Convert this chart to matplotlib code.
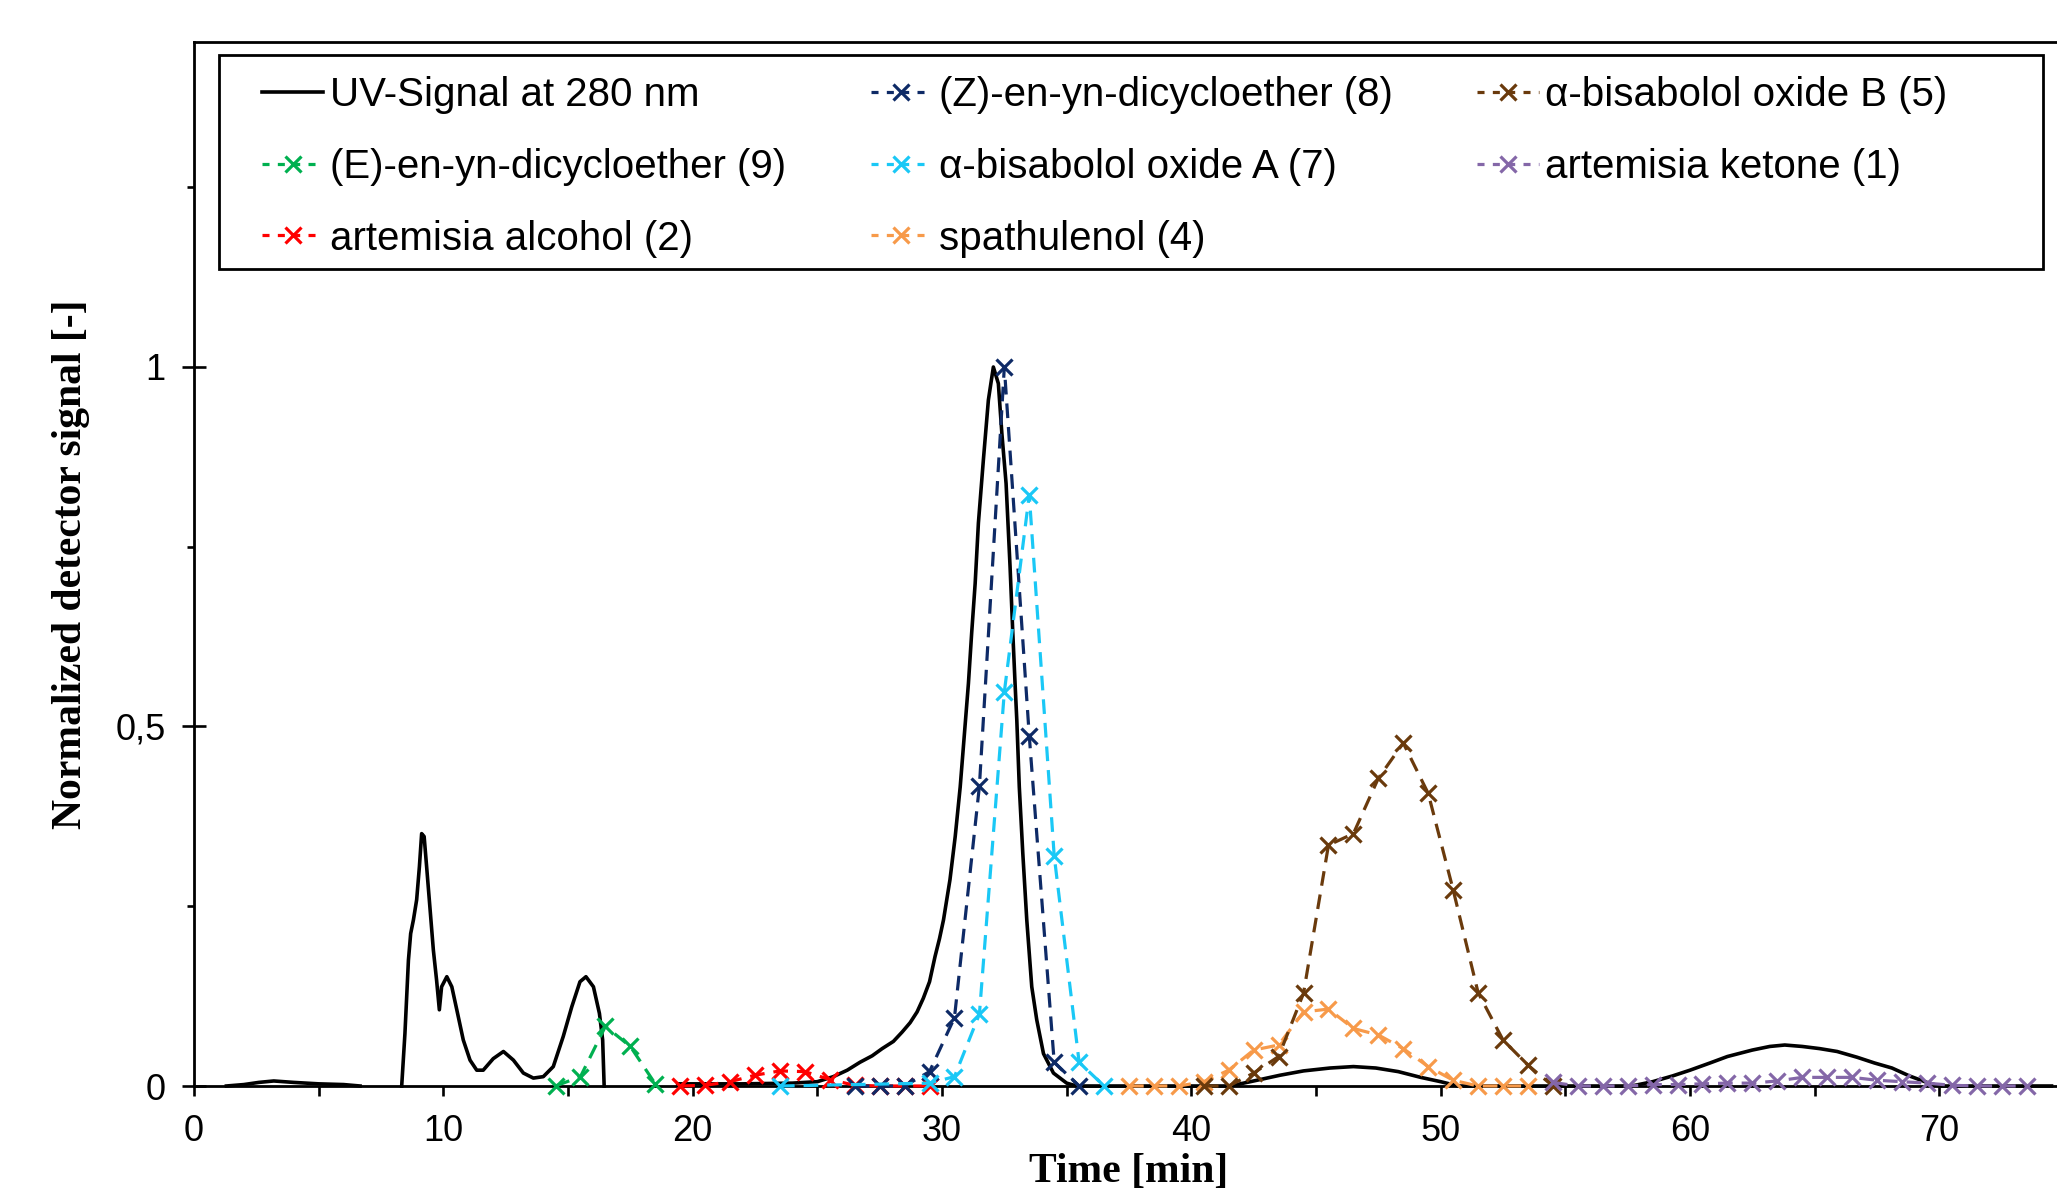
import numpy as np
import matplotlib
matplotlib.use("Agg")
import matplotlib.pyplot as plt
from matplotlib.lines import Line2D
from matplotlib.patches import Rectangle
from matplotlib.ticker import MultipleLocator, FuncFormatter

nan = np.nan

# ---------------- data ----------------
uv_time = [1.3, 2.0, 2.6, 3.2, 4.0, 5.0, 6.0, 6.66, nan,
           8.33, 8.46, 8.6, 8.69, 8.8, 8.93, 9.04, 9.13, 9.23, 9.33, 9.47, 9.6, 9.73,
           9.84, 9.93, 10.14, 10.34, 10.54, 10.8, 11.07, 11.34, 11.6, 12.0, 12.41,
           12.81, 13.21, 13.61, 14.01, 14.41, 14.81, 15.15, 15.48, 15.72, 16.02,
           16.26, 16.39, 16.45, nan,
           19.4, 20.5, 22.0, 24.0, 25.0, 25.64, 26.2, 26.71, 27.2, 27.6, 28.05, 28.4,
           28.72, 29.0, 29.25, 29.5, 29.72, 29.9, 30.06, 30.32, 30.53, 30.73, 30.95,
           31.06, 31.19, 31.33, 31.46, 31.66, 31.86, 32.06, 32.26, 32.4, 32.57, 32.73,
           32.84, 32.93, 33.0, 33.1, 33.24, 33.4, 33.6, 33.8, 34.07, 34.47, 35.0, 35.4,
           38.0, 41.56, 42.5, 43.56, 44.5, 45.56, 46.5, 47.4, 48.3, 49.2, 50.0, 50.7,
           54.0, 57.66, 58.5, 59.3, 60.0, 60.8, 61.5, 62.5, 63.2, 63.8, 64.5, 65.2,
           65.9, 66.7, 67.4, 68.1, 68.8, 69.5, 70.0, 74.5]
uv_signal = [0.0, 0.002, 0.005, 0.007, 0.005, 0.003, 0.002, 0.0, nan,
             0.0, 0.073, 0.175, 0.212, 0.231, 0.259, 0.305, 0.351, 0.347, 0.305, 0.245,
             0.189, 0.147, 0.106, 0.138, 0.152, 0.138, 0.106, 0.064, 0.036, 0.022,
             0.022, 0.038, 0.048, 0.036, 0.018, 0.011, 0.013, 0.027, 0.069, 0.11,
             0.145, 0.152, 0.138, 0.101, 0.064, 0.0, nan,
             0.003, 0.003, 0.003, 0.004, 0.006, 0.013, 0.022, 0.033, 0.042, 0.052,
             0.062, 0.075, 0.088, 0.103, 0.122, 0.145, 0.18, 0.205, 0.231, 0.287,
             0.347, 0.416, 0.512, 0.56, 0.63, 0.699, 0.783, 0.871, 0.954, 1.0, 0.977,
             0.908, 0.838, 0.722, 0.63, 0.56, 0.509, 0.416, 0.324, 0.231, 0.138,
             0.092, 0.045, 0.018, 0.004, 0.0,
             0.0, 0.0, 0.007, 0.015, 0.021, 0.025, 0.027, 0.025, 0.02, 0.012, 0.006, 0.0,
             0.0, 0.0, 0.006, 0.014, 0.022, 0.032, 0.041, 0.05, 0.055, 0.057, 0.055,
             0.052, 0.048, 0.04, 0.032, 0.025, 0.014, 0.005, 0.0, 0.0]

z8_time = [26.5, 27.5, 28.5, 29.5, 30.5, 31.5, 32.5, 33.5, 34.5, 35.5]
z8_value = [0.0, 0.0, 0.0, 0.02, 0.095, 0.417, 1.0, 0.487, 0.033, 0.0]

b5_time = [40.5, 41.5, 42.5, 43.5, 44.5, 45.5, 46.5, 47.5, 48.5, 49.5, 50.5, 51.5,
           52.5, 53.5, 54.5]
b5_value = [0.0, 0.0, 0.018, 0.041, 0.129, 0.335, 0.351, 0.428, 0.477, 0.407, 0.273,
            0.13, 0.064, 0.029, 0.0]

e9_time = [14.5, 15.5, 16.5, 17.5, 18.5]
e9_value = [0.0, 0.013, 0.083, 0.055, 0.003]

a7_time = [23.5, 29.5, 30.5, 31.5, 32.5, 33.5, 34.5, 35.5, 36.5]
a7_value = [0.0, 0.004, 0.013, 0.1, 0.548, 0.822, 0.32, 0.033, 0.0]

k1_time = [54.5, 55.5, 56.5, 57.5, 58.5, 59.5, 60.5, 61.5, 62.5, 63.5, 64.5, 65.5,
           66.5, 67.5, 68.5, 69.5, 70.5, 71.5, 72.5, 73.5]
k1_value = [0.005, 0.0, 0.0, 0.0, 0.002, 0.002, 0.003, 0.004, 0.004, 0.007, 0.012,
            0.012, 0.012, 0.008, 0.006, 0.004, 0.001, 0.0, 0.0, 0.0]

a2_time = [19.5, 20.5, 21.5, 22.5, 23.5, 24.5, 25.5, 26.5, 27.5, 28.5, 29.5]
a2_value = [0.0, 0.001, 0.006, 0.015, 0.021, 0.02, 0.009, 0.001, 0.0, 0.0, 0.0]

s4_time = [37.5, 38.5, 39.5, 40.5, 41.5, 42.5, 43.5, 44.5, 45.5, 46.5, 47.5, 48.5,
           49.5, 50.5, 51.5, 52.5, 53.5]
s4_value = [0.0, 0.0, 0.0, 0.006, 0.022, 0.05, 0.057, 0.103, 0.107, 0.08, 0.071,
            0.052, 0.027, 0.008, 0.0, 0.0, 0.0]

# ---------------- figure ----------------
W, H = 2057, 1197
fig = plt.figure(figsize=(W / 100, H / 100), dpi=100)
ax = fig.add_axes([194 / W, 111 / H, 1870 / W, 1044 / H])

SANS = "Liberation Sans"
SERIF = "Liberation Serif"

ax.plot(uv_time, uv_signal, color="black", lw=2.6, zorder=2, solid_joinstyle="round",
        clip_on=False)

LW = 2.3
style = dict(lw=LW, marker="x", markersize=12, markeredgewidth=2.3, zorder=3,
             dashes=(4.6, 2.8), clip_on=False)
series = [
    (e9_time, e9_value, "#00B050", "(E)-en-yn-dicycloether (9)"),
    (a2_time, a2_value, "#FF0000", "artemisia alcohol (2)"),
    (z8_time, z8_value, "#0E2A66", "(Z)-en-yn-dicycloether (8)"),
    (a7_time, a7_value, "#1AC8F6", "α-bisabolol oxide A (7)"),
    (s4_time, s4_value, "#F79A4A", "spathulenol (4)"),
    (b5_time, b5_value, "#6A3A0C", "α-bisabolol oxide B (5)"),
    (k1_time, k1_value, "#8467A8", "artemisia ketone (1)"),
]
for t, v, c, _ in series:
    ax.plot(t, v, color=c, **style)

ax.set_xlim(0, 75)
ax.set_ylim(0, 1.452)

ax.xaxis.set_major_locator(MultipleLocator(10))
ax.xaxis.set_minor_locator(MultipleLocator(5))
ax.yaxis.set_major_locator(MultipleLocator(0.5))
ax.yaxis.set_minor_locator(MultipleLocator(0.25))
ax.yaxis.set_major_formatter(FuncFormatter(lambda v, p: f"{v:g}".replace(".", ",")))

ax.tick_params(axis="x", which="both", direction="out", length=7, width=1.9,
               labelsize=26, pad=13)
ax.tick_params(axis="y", which="major", direction="inout", length=17, width=1.9,
               labelsize=26, pad=12)
ax.tick_params(axis="y", which="minor", direction="out", length=5, width=1.9)
for lab in ax.get_xticklabels() + ax.get_yticklabels():
    lab.set_fontfamily(SANS)

for s in ["left", "bottom", "top"]:
    ax.spines[s].set_linewidth(2.0)
ax.spines["right"].set_visible(False)

ax.set_xlabel("Time [min]", fontfamily=SERIF, fontweight="bold", fontsize=30)
ax.set_ylabel("Normalized detector signal [-]", fontfamily=SERIF, fontweight="bold",
              fontsize=30)
ax.xaxis.set_label_coords(0.5, -0.064)
ax.yaxis.set_label_coords(-0.0556, 0.5)

# legend (column-major order for 3 columns)
handles = {"UV-Signal at 280 nm": Line2D([], [], color="black", lw=2.6)}
for t, v, c, lab in series:
    handles[lab] = Line2D([], [], color=c, lw=LW, marker="x", markersize=12,
                          markeredgewidth=2.3, dashes=(2.2, 2.6))
order = ["UV-Signal at 280 nm", "(E)-en-yn-dicycloether (9)", "artemisia alcohol (2)",
         "(Z)-en-yn-dicycloether (8)", "α-bisabolol oxide A (7)", "spathulenol (4)",
         "α-bisabolol oxide B (5)", "artemisia ketone (1)"]
leg = ax.legend([handles[k] for k in order], order, ncol=3, loc="upper left",
                bbox_to_anchor=(0.0364, 0.9675), frameon=False, borderpad=0,
                borderaxespad=0, handlelength=1.52, handletextpad=0.17,
                columnspacing=2.1, labelspacing=0.84,
                prop={"family": SANS, "size": 29})
leg.set_zorder(6)

ax.add_patch(Rectangle((0.01337, 0.7826), 0.9754, 0.2050, transform=ax.transAxes,
                       fill=True, facecolor="white", edgecolor="black", lw=2.0,
                       zorder=5, clip_on=False))

fig.savefig("out.png", dpi=100)
